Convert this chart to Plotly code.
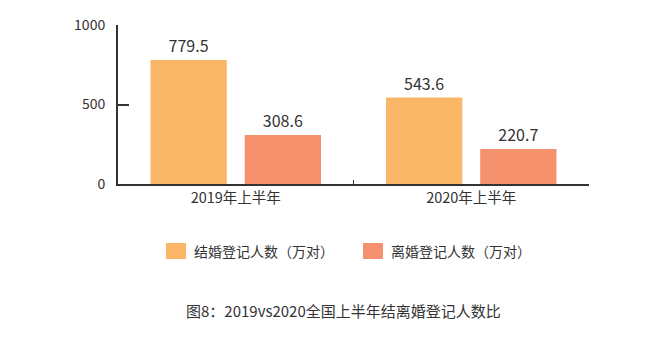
import plotly.graph_objects as go

categories = ["2019年上半年", "2020年上半年"]
marriage = [779.5, 543.6]
divorce = [308.6, 220.7]
series_names = ["结婚登记人数（万对）", "离婚登记人数（万对）"]
colors = ["#F9B666", "#F5916D"]
caption = "图8：2019vs2020全国上半年结离婚登记人数比"

FONT = "Noto Sans CJK SC"
TXT = "#333333"

fig = go.Figure()
for vals, name, col in zip([marriage, divorce], series_names, colors):
    fig.add_trace(go.Bar(
        x=categories, y=vals, name=name, marker=dict(color=col, line=dict(width=0)),
        text=[f"{v:.1f}" for v in vals], textposition="outside",
        textfont=dict(size=16, color=TXT, family=FONT), cliponaxis=False,
        showlegend=False,
    ))

W, H = 667, 351
pl, pr, pt, pb = 118, 78, 25, 167

fig.update_layout(
    width=W, height=H,
    margin=dict(l=pl, r=pr, t=pt, b=pb),
    paper_bgcolor="white", plot_bgcolor="white",
    barmode="group", bargap=0.2, bargroupgap=0.19,
    font=dict(family=FONT, color=TXT, size=14),
    xaxis=dict(
        showline=True, linecolor="#333333", linewidth=2,
        ticks="inside", tickson="boundaries", ticklen=4, tickcolor="#333333",
        tickfont=dict(size=14.5, color=TXT), showgrid=False,
    ),
    yaxis=dict(
        range=[0, 1000], tickvals=[0, 500, 1000],
        showline=True, linecolor="#333333", linewidth=2,
        ticks="inside", ticklen=11, tickcolor="#333333", tickwidth=2,
        tickfont=dict(size=14, color=TXT), showgrid=False, zeroline=False,
        ticklabelstandoff=8,
    ),
)

# Legend drawn manually
leg_x = [166, 363]
text_x = [192, 389]
pw, ph = W - pl - pr, H - pt - pb

def px_to_paper_x(x):
    return (x - pl) / pw

def px_to_paper_y(y):
    return (H - pb - y) / ph

for i in range(2):
    fig.add_shape(type="rect", xref="paper", yref="paper",
                  x0=px_to_paper_x(leg_x[i]), x1=px_to_paper_x(leg_x[i] + 20),
                  y0=px_to_paper_y(259), y1=px_to_paper_y(243),
                  fillcolor=colors[i], line=dict(width=0))
    fig.add_annotation(xref="paper", yref="paper",
                       x=px_to_paper_x(text_x[i]), y=px_to_paper_y(251),
                       text=series_names[i], showarrow=False,
                       xanchor="left", yanchor="middle",
                       font=dict(size=14, color=TXT, family=FONT))

fig.add_annotation(xref="paper", yref="paper",
                   x=px_to_paper_x(184), y=px_to_paper_y(310),
                   text=caption, showarrow=False, xanchor="left", yanchor="middle",
                   font=dict(size=15, color=TXT, family=FONT))

fig.write_html("out.html")
